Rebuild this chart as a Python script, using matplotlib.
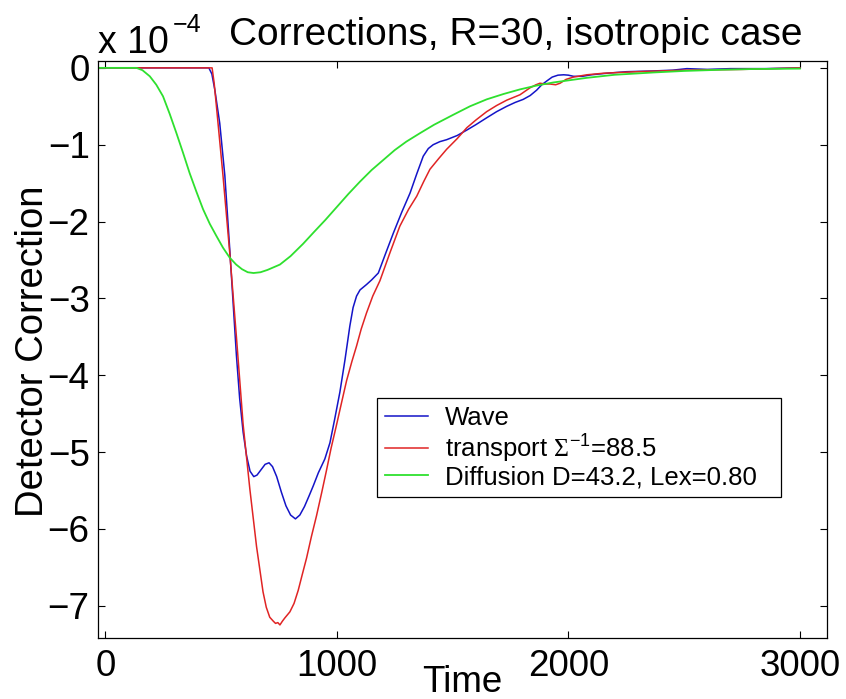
import matplotlib
matplotlib.use('Agg')
import matplotlib.pyplot as plt

plt.rcParams['font.family'] = ['Liberation Sans', 'DejaVu Sans']
plt.rcParams['mathtext.fontset'] = 'custom'
plt.rcParams['mathtext.rm'] = 'Liberation Serif'
plt.rcParams['mathtext.sf'] = 'Liberation Sans'

# Wave (blue)
wave_t = [-32, 447, 460, 473, 494, 516, 537, 566, 580, 595, 610, 625, 641, 655,
          670, 690, 707, 722, 740, 760, 780, 800, 821, 840, 860, 880, 898, 920,
          948, 970, 990, 1013, 1035, 1056, 1070, 1085, 1100, 1128, 1150, 1179,
          1210, 1244, 1280, 1316, 1345, 1373, 1395, 1416, 1445, 1474, 1520,
          1561, 1600, 1647, 1690, 1734, 1770, 1805, 1835, 1863, 1885, 1907,
          1930, 1955, 1980, 2000, 2022, 2060, 2100, 2166, 2250, 2367, 2450,
          2512, 2600, 2700, 2850, 3000]
wave_v = [0, 0, -0.08, -0.29, -0.72, -1.40, -2.35, -3.74, -4.30, -4.74, -5.05,
          -5.25, -5.32, -5.30, -5.24, -5.16, -5.14, -5.19, -5.32, -5.52, -5.70,
          -5.82, -5.87, -5.82, -5.71, -5.57, -5.44, -5.27, -5.09, -4.88, -4.58,
          -4.22, -3.80, -3.36, -3.12, -2.97, -2.89, -2.82, -2.76, -2.67, -2.42,
          -2.15, -1.88, -1.63, -1.38, -1.15, -1.05, -1.00, -0.96, -0.935, -0.88,
          -0.81, -0.74, -0.65, -0.57, -0.50, -0.45, -0.41, -0.36, -0.29, -0.22,
          -0.17, -0.12, -0.095, -0.09, -0.095, -0.11, -0.11, -0.09, -0.07,
          -0.05, -0.04, -0.03, -0.01, -0.02, -0.01, -0.01, 0]

# transport (red)
trans_t = [-32, 461, 470, 480, 508, 537, 566, 595, 624, 653, 681, 695, 710,
           725, 735, 745, 754, 765, 775, 797, 815, 833, 850, 869, 890, 912, 935,
           955, 975, 999, 1020, 1042, 1065, 1085, 1105, 1128, 1155, 1186, 1230,
           1272, 1310, 1345, 1375, 1402, 1440, 1474, 1520, 1561, 1600, 1647,
           1690, 1734, 1791, 1834, 1860, 1877, 1900, 1920, 1945, 1964, 1990,
           2022, 2080, 2151, 2220, 2296, 2400, 2500, 2620, 2750, 2880, 3000]
trans_v = [0, 0, -0.20, -0.51, -1.40, -2.40, -3.50, -4.64, -5.48, -6.23, -6.82,
           -7.02, -7.15, -7.20, -7.23, -7.22, -7.25, -7.20, -7.16, -7.08, -6.97,
           -6.80, -6.60, -6.38, -6.10, -5.83, -5.52, -5.24, -4.95, -4.64, -4.36,
           -4.07, -3.82, -3.62, -3.40, -3.19, -2.97, -2.77, -2.40, -2.06, -1.84,
           -1.67, -1.48, -1.32, -1.18, -1.06, -0.92, -0.78, -0.68, -0.57, -0.49,
           -0.42, -0.35, -0.26, -0.22, -0.20, -0.21, -0.21, -0.22, -0.20, -0.15,
           -0.12, -0.09, -0.07, -0.06, -0.05, -0.04, -0.03, -0.025, -0.02,
           -0.01, 0]

# Diffusion (green)
diff_t = [-32, 134, 160, 192, 220, 249, 278, 307, 336, 364, 393, 422, 451, 480,
          508, 537, 565, 590, 615, 640, 670, 700, 754, 800, 854, 900, 950, 1000,
          1050, 1100, 1150, 1200, 1250, 1300, 1359, 1420, 1503, 1575, 1647,
          1720, 1791, 1863, 1935, 2079, 2200, 2367, 2500, 2656, 2800, 3000]
diff_v = [0, 0, -0.03, -0.11, -0.22, -0.37, -0.60, -0.85, -1.11, -1.37, -1.61,
          -1.84, -2.03, -2.19, -2.34, -2.47, -2.56, -2.62, -2.66, -2.67, -2.66,
          -2.63, -2.56, -2.45, -2.29, -2.14, -1.98, -1.81, -1.64, -1.48, -1.33,
          -1.20, -1.07, -0.96, -0.85, -0.74, -0.61, -0.50, -0.41, -0.34, -0.28,
          -0.23, -0.19, -0.13, -0.09, -0.06, -0.04, -0.025, -0.015, -0.01]

labels = ['Wave', r'transport $\Sigma^{\mathsf{-1}}$=88.5',
          'Diffusion D=43.2, Lex=0.80']
x_ticks = [0, 1000, 2000, 3000]
y_ticks = [0, -1, -2, -3, -4, -5, -6, -7]

fig = plt.figure(figsize=(8.46, 6.99), dpi=100)
ax = fig.add_axes([0.1158, 0.0873, 0.8617, 0.8255])

ax.plot(wave_t, wave_v, color='#1414c8', lw=1.1, label=labels[0])
ax.plot(trans_t, trans_v, color='#e02424', lw=1.1, label=labels[1])
ax.plot(diff_t, diff_v, color='#2ee02e', lw=1.3, label=labels[2])

ax.set_xlim(-32, 3117)
ax.set_ylim(-7.42, 0.09)
ax.set_xticks(x_ticks)
ax.set_yticks(y_ticks)
ax.tick_params(direction='in', top=True, right=True, length=5, width=0.8,
               labelsize=26.5, pad=6)
ax.tick_params(axis='x', pad=8)
for s in ax.spines.values():
    s.set_linewidth(0.9)

leg = ax.legend(loc='upper left', bbox_to_anchor=(0.383, 0.4154, 0.554, 0.0),
                mode='expand', borderaxespad=0, fontsize=18.5, fancybox=False,
                edgecolor='black', framealpha=1, handlelength=1.69,
                handletextpad=0.65, labelspacing=0.05, borderpad=0.3)
leg.get_frame().set_linewidth(0.9)

fig.text(516 / 846, 1 - 45 / 699, 'Corrections, R=30, isotropic case',
         ha='center', va='baseline', fontsize=28)
fig.text(98 / 846, 1 - 53 / 699, 'x 10', ha='left', va='baseline', fontsize=27)
fig.text(173 / 846, 1 - 32 / 699, '\u22124', ha='left', va='baseline',
         fontsize=18)
fig.text(33 / 846, 1 - 351 / 699, 'Detector Correction', rotation=90,
         ha='center', va='center', fontsize=27.5)
fig.text(462 / 846, 1 - 692 / 699, 'Time', ha='center', va='baseline',
         fontsize=26.5)

fig.savefig('out.png', dpi=100)
